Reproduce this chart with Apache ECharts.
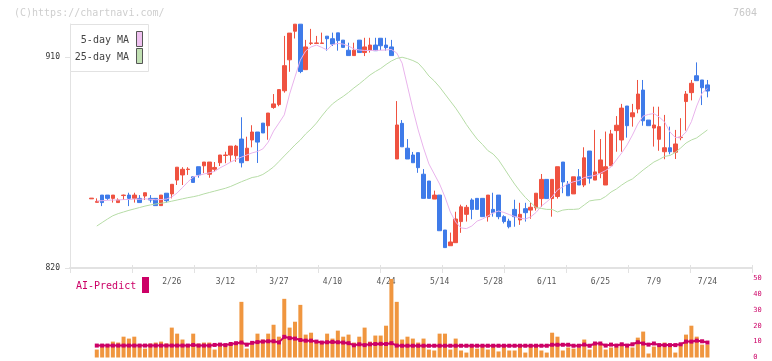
<!DOCTYPE html>
<html>
<head>
<meta charset="utf-8">
<script src="https://cdn.jsdelivr.net/npm/echarts@6.0.0/dist/echarts.min.js"></script>
<style>html,body{margin:0;padding:0;background:#fff;}</style>
</head>
<body>
<div id="chart" style="width:772px;height:361px;"></div>
<script type="text/javascript">
// trading days shown (2025)
var dates = [
  '2/3','2/4','2/5','2/6','2/7','2/10','2/12','2/13','2/14','2/17','2/18','2/19','2/20','2/21','2/25','2/26','2/27','2/28',
  '3/3','3/4','3/5','3/6','3/7','3/10','3/11','3/12','3/13','3/14','3/17','3/18','3/19','3/21','3/24','3/25','3/26','3/27','3/28','3/31',
  '4/1','4/2','4/3','4/4','4/7','4/8','4/9','4/10','4/11','4/14','4/15','4/16','4/17','4/18','4/21','4/22','4/23','4/24','4/25','4/28','4/30',
  '5/1','5/2','5/7','5/8','5/9','5/12','5/14','5/15','5/16','5/19','5/20','5/21','5/22','5/23','5/26','5/27','5/28','5/29','5/30',
  '6/2','6/3','6/4','6/5','6/6','6/9','6/10','6/11','6/12','6/13','6/16','6/17','6/18','6/19','6/20','6/23','6/24','6/25','6/26','6/27','6/30',
  '7/1','7/2','7/3','7/4','7/7','7/8','7/9','7/10','7/11','7/14','7/15','7/16','7/17','7/18','7/22','7/23','7/24'
];
var tickLabels = ['2/26','3/12','3/27','4/10','4/24','5/14','5/28','6/11','6/25','7/9','7/24'];

// [open, close, low, high]
var candles = [
  [849.5,849.8,849.5,849.8],[848.0,848.4,848.0,849.7],[851.1,847.9,846.4,851.1],[851.1,849.7,849.0,851.1],[849.7,851.1,847.9,851.1],
  [847.9,849.0,847.9,849.7],[850.9,851.1,849.0,851.3],[851.1,849.7,846.4,852.1],[849.7,851.1,847.9,852.1],[849.7,847.9,847.9,851.1],
  [850.7,852.1,849.0,852.1],[849.7,849.0,847.9,851.1],[849.7,846.6,846.6,849.7],[846.6,851.1,846.6,851.1],[851.9,848.7,847.9,851.9],
  [851.6,855.7,849.7,855.7],[857.5,863.0,855.4,863.0],[859.7,862.1,855.4,863.0],[862.0,862.2,859.7,863.0],[858.9,856.5,856.5,858.9],
  [863.2,859.7,858.5,863.2],[863.6,865.2,860.5,865.2],[860.0,865.2,858.5,865.2],[862.1,862.9,861.1,865.2],[864.9,868.2,863.5,868.2],
  [868.0,868.2,864.7,869.6],[868.2,872.0,865.3,872.0],[867.9,872.0,865.3,872.5],[875.0,864.9,862.9,884.3],[865.8,871.1,865.8,876.0],
  [874.6,878.0,871.5,880.9],[878.0,873.7,864.8,878.0],[881.8,877.6,877.6,881.8],[880.7,886.1,874.7,886.1],[888.5,890.0,887.9,894.2],
  [889.7,896.1,889.0,896.1],[895.6,906.3,894.8,919.0],[908.8,920.2,903.7,920.2],[921.0,924.0,917.9,924.0],[924.0,903.8,903.1,924.0],
  [904.6,914.3,904.6,917.3],[915.8,916.0,915.1,922.0],[915.8,916.0,915.8,919.0],[915.8,916.0,915.8,920.4],[918.9,917.8,912.7,918.9],
  [917.8,915.5,914.7,920.4],[920.3,917.0,912.7,920.3],[917.2,914.1,914.1,917.2],[912.9,910.6,910.6,916.1],[910.6,912.9,910.6,916.1],
  [917.2,911.9,911.9,917.2],[911.9,914.3,910.4,918.2],[912.9,915.1,911.9,918.2],[915.1,912.7,912.7,918.2],[918.0,914.8,912.9,918.0],
  [915.1,914.0,912.7,918.2],[914.3,910.6,910.6,917.3],[866.5,881.0,866.5,891.2],[881.7,871.7,871.7,883.1],[871.1,866.5,866.5,875.0],
  [868.2,864.9,864.9,869.5],[869.2,862.8,860.6,869.2],[860.0,849.7,849.7,862.2],[857.1,849.7,849.7,857.1],[849.4,851.1,849.4,853.0],
  [851.1,835.9,835.9,851.1],[836.2,828.7,828.7,836.2],[829.5,831.1,829.5,835.1],[830.8,840.9,830.8,844.0],[839.8,846.1,835.0,847.0],
  [842.9,845.9,839.8,846.9],[849.0,845.0,840.8,849.7],[849.7,845.0,845.0,849.7],[849.7,841.9,841.9,849.7],[841.9,851.1,839.8,851.1],
  [845.0,843.6,841.9,852.1],[851.1,841.9,840.8,851.1],[841.9,839.8,839.0,842.5],[840.0,837.6,836.9,841.0],[845.0,841.9,837.6,849.1],
  [840.5,842.9,838.4,847.8],[845.3,843.6,839.8,847.8],[844.7,845.9,841.0,847.8],[845.7,851.9,844.5,851.9],[849.6,857.8,846.0,860.1],
  [857.8,849.6,849.6,857.8],[849.6,857.8,841.9,857.8],[850.5,863.2,849.6,863.2],[865.2,856.7,851.9,865.2],[855.8,850.8,850.8,857.1],
  [851.6,858.9,851.6,858.9],[858.9,855.4,855.4,862.2],[855.4,867.0,854.5,871.5],[869.9,858.3,856.0,869.9],[857.5,861.0,857.5,878.9],
  [860.4,866.1,858.3,875.0],[855.4,863.2,855.4,878.2],[863.6,877.2,863.6,878.9],[878.6,880.9,869.6,884.8],[874.6,888.2,869.6,890.0],
  [889.1,880.7,875.6,889.1],[884.5,886.2,880.3,890.0],[887.8,894.2,886.0,900.2],[895.9,882.8,880.7,900.2],[883.1,880.7,880.7,883.1],
  [879.7,881.0,871.8,888.8],[874.9,880.3,870.0,888.8],[869.6,871.3,866.4,885.3],[871.3,869.6,868.5,880.3],[869.4,872.9,866.5,878.9],
  [875.6,875.8,874.5,883.9],[891.0,894.2,878.6,895.5],[894.8,898.8,891.5,900.2],[902.0,899.9,899.9,907.7],[900.2,896.9,889.5,900.2],
  [898.1,895.5,892.8,900.2]
];

var ma5 = [null,
  848.6,848.7,848.9,849.0,849.0,849.2,849.2,849.4,849.3,849.5,
  849.3,849.1,849.2,849.4,850.3,852.0,854.3,856.7,858.8,859.5,
  860.1,860.6,861.2,862.7,863.9,865.2,866.3,867.3,868.2,869.1,
  869.7,870.8,873.7,878.4,881.8,885.3,894.2,901.5,908.7,912.6,
  914.3,915.1,914.1,913.0,915.3,915.8,915.5,914.7,913.4,913.0,
  912.8,912.8,912.8,912.9,913.0,913.2,911.7,907.4,897.6,887.8,
  878.9,871.2,864.4,860.1,855.8,850.3,843.9,839.6,837.1,836.8,
  837.9,840.0,840.9,842.2,843.5,844.3,843.7,842.8,842.0,841.3,
  840.9,841.8,843.7,846.4,848.2,850.3,853.3,854.6,856.0,856.8,
  857.3,858.6,859.1,859.5,860.4,861.6,863.1,866.1,869.1,872.5,
  876.7,881.4,884.8,885.5,885.9,884.4,882.3,878.0,875.7,875.7,
  878.0,882.4,889.1,894.6,896.6
];

var ma25 = [null,
  837.9,839.4,840.9,842.3,843.2,843.9,844.6,845.2,845.8,846.4,
  846.9,847.3,847.6,848.0,848.5,849.0,849.5,850.0,850.4,850.9,
  851.6,852.2,852.8,853.4,854.0,854.8,855.8,856.8,857.7,858.6,
  859.0,859.9,861.4,863.1,865.4,867.8,870.1,872.5,874.6,877.2,
  879.3,881.8,884.8,887.6,890.0,891.7,893.2,894.9,896.8,898.5,
  900.4,902.3,903.8,905.1,906.8,908.3,909.4,909.9,909.3,908.5,
  907.4,904.9,901.9,899.8,897.2,894.2,891.2,888.2,884.8,881.2,
  878.0,875.0,872.7,870.1,868.6,866.1,862.7,859.2,855.8,852.8,
  850.1,847.9,845.8,845.4,845.0,845.0,843.9,844.7,845.0,845.0,
  845.2,846.9,848.6,849.0,849.2,850.5,852.4,853.7,855.4,856.9,
  858.0,859.9,861.8,863.5,865.2,866.3,867.6,868.0,869.3,871.2,
  873.3,874.6,875.5,877.2,878.9
];

var volume = [null,
  5.0,6.7,6.7,10,9.4,13.1,11.9,13.1,6.7,5.6,
  8.8,9.4,10,8.8,18.8,15,11.3,7.5,15,8.8,
  9.4,9.4,5,8.1,7.5,8.8,8.8,35,5.6,8.1,
  15,11.3,15,20.6,13.1,36.9,18.8,22.5,33.1,14.4,
  15.6,10,10,15,11.9,16.9,13.1,14.4,9.4,13.1,
  18.8,10,13.8,13.8,20,49.4,35,11.3,13.1,11.9,
  9.4,11.9,5,4.4,15,15,5,11.9,4.4,3.1,
  6.9,5.6,6.9,5,6.9,3.8,6.9,4.4,4.4,6.9,
  3.1,7.5,7.5,4.4,3.1,15.6,13.1,4.4,6.3,5.6,
  6.3,11.3,5,8.1,8.1,5,6.3,6.9,8.1,6.9,
  6.3,12.5,16.3,2.5,6.9,7.5,9.4,6.9,3.1,7.5,
  14.4,20,13.1,8.1,8.1
];

var aiPredict = [null,
  7.5,7.5,7.5,7.5,7.5,7.5,7.5,7.5,7.5,7.5,
  7.5,7.5,7.5,7.5,7.5,7.5,7.5,7.5,7.9,7.5,
  7.5,7.5,7.9,8.1,7.8,8.5,9.0,9.4,8.1,9.2,
  9.7,10.0,10.2,10.2,9.5,13.0,12.2,11.9,11.0,10.6,
  10.6,10.0,9.4,9.6,9.8,9.6,9.4,9.0,7.7,8.3,
  7.8,8.3,8.5,8.6,8.5,9.0,7.5,7.4,7.4,7.4,
  7.4,7.4,7.4,7.4,7.4,7.4,7.4,7.4,7.4,7.4,
  7.4,7.4,7.4,7.4,7.4,7.4,7.4,7.4,7.4,7.4,
  7.4,7.4,7.4,7.4,7.4,8.0,8.0,8.0,8.0,7.4,
  7.4,8.1,7.4,8.8,8.8,7.5,8.1,7.5,8.3,7.5,
  8.3,9.6,8.8,8.1,8.8,7.8,7.8,7.8,7.8,8.3,
  10.0,10.0,10.6,10.2,9.4
];

var RED = '#ef5240';
var BLUE = '#3f7be9';
var MAGENTA = '#cc0066';
var FONT = '"DejaVu Sans Mono", "Liberation Mono", monospace';

// empty slots either side of the data on the category axis
var PAD_LEFT = 4, PAD_RIGHT = 8;
function pad(arr, fill) {
  var out = [];
  for (var i = 0; i < PAD_LEFT; i++) out.push(fill);
  out = out.concat(arr);
  for (var j = 0; j < PAD_RIGHT; j++) out.push(fill);
  return out;
}
var axisDates = [];
for (var i = 0; i < PAD_LEFT; i++) axisDates.push('l' + i);
axisDates = axisDates.concat(dates);
for (var j = 0; j < PAD_RIGHT; j++) axisDates.push('r' + j);

var myChart = echarts.init(document.getElementById('chart'));

var option = {
  animation: false,
  textStyle: { fontFamily: FONT },
  grid: [
    // price pane
    { left: 70, top: 24, width: 680.3, height: 244 },
    // frame: bottom tick axis + price labels (820..910)
    { left: 70, top: 57, width: 682, height: 211 },
    // volume pane
    { left: 70, top: 278, width: 680.3, height: 80 }
  ],
  xAxis: [
    {
      type: 'category', gridIndex: 0, data: axisDates, boundaryGap: false,
      axisLine: { show: false }, axisTick: { show: false }, splitLine: { show: false },
      axisLabel: {
        interval: function (idx, val) { return tickLabels.indexOf(val) >= 0; },
        margin: 10, fontSize: 8, color: '#555', fontFamily: FONT
      }
    },
    {
      type: 'value', gridIndex: 1, min: 0, max: 11, interval: 1,
      axisLine: { show: true, lineStyle: { color: '#e2e2e2', width: 2 } },
      axisTick: { show: true, length: 5, lineStyle: { color: '#e2e2e2', width: 1 } },
      axisLabel: { show: false }, splitLine: { show: false }
    },
    {
      type: 'value', gridIndex: 1, min: 0, max: 11, interval: 1, position: 'bottom',
      axisLine: { show: false },
      axisTick: { show: true, inside: true, length: 3, lineStyle: { color: '#e2e2e2', width: 1 } },
      axisLabel: { show: false }, splitLine: { show: false }
    },
    {
      type: 'category', gridIndex: 2, data: axisDates, boundaryGap: false, show: false
    }
  ],
  yAxis: [
    {
      type: 'value', gridIndex: 0, min: 820, max: 924.08,
      axisLine: { show: true, lineStyle: { color: '#e2e2e2', width: 1 } },
      axisTick: { show: false }, axisLabel: { show: false }, splitLine: { show: false }
    },
    {
      type: 'value', gridIndex: 1, min: 820, max: 910, interval: 90,
      axisLine: { show: false },
      axisTick: { show: true, length: 5, lineStyle: { color: '#e2e2e2' } },
      axisLabel: { fontSize: 8, color: '#333', margin: 10, fontFamily: FONT },
      splitLine: { show: false }
    },
    {
      type: 'value', gridIndex: 2, position: 'right', min: 0, max: 50, interval: 10,
      axisLine: { show: false }, axisTick: { show: false }, splitLine: { show: false },
      axisLabel: { fontSize: 7, color: MAGENTA, margin: 3, fontFamily: FONT }
    }
  ],
  series: [
    {
      name: 'price', type: 'candlestick', xAxisIndex: 0, yAxisIndex: 0,
      data: pad(candles, '-'), barWidth: 4,
      itemStyle: { color: RED, color0: BLUE, borderColor: RED, borderColor0: BLUE, borderWidth: 1 }
    },
    {
      name: '5-day MA', type: 'line', xAxisIndex: 0, yAxisIndex: 0,
      data: pad(ma5, null), symbol: 'none',
      lineStyle: { color: '#e9b3ec', width: 1 }
    },
    {
      name: '25-day MA', type: 'line', xAxisIndex: 0, yAxisIndex: 0,
      data: pad(ma25, null), symbol: 'none',
      lineStyle: { color: '#b6dca6', width: 1 }
    },
    {
      name: 'volume', type: 'bar', xAxisIndex: 3, yAxisIndex: 2,
      data: pad(volume, null), barWidth: 4,
      itemStyle: { color: '#f0963f' }
    },
    {
      name: 'AI-Predict', type: 'line', xAxisIndex: 3, yAxisIndex: 2,
      data: pad(aiPredict, null), symbol: 'rect', symbolSize: 4, showAllSymbol: true,
      lineStyle: { color: MAGENTA, width: 2 }, itemStyle: { color: MAGENTA }
    }
  ],
  graphic: [
    { type: 'text', left: 14, top: 8, style: { text: '(C)https://chartnavi.com/', font: '10px ' + FONT, fill: '#cfcfcf' } },
    { type: 'text', right: 15, top: 8, style: { text: '7604', font: '10px ' + FONT, fill: '#c8c8c8' } },
    { type: 'rect', shape: { x: 70.5, y: 24.5, width: 78, height: 47 }, style: { fill: '#fff', stroke: '#e2e2e2', lineWidth: 1 }, z: 100 },
    { type: 'text', x: 129, y: 40, style: { text: '5-day MA', font: '10px ' + FONT, fill: '#444', textAlign: 'right', textVerticalAlign: 'middle' }, z: 101 },
    { type: 'text', x: 129, y: 57, style: { text: '25-day MA', font: '10px ' + FONT, fill: '#444', textAlign: 'right', textVerticalAlign: 'middle' }, z: 101 },
    { type: 'rect', shape: { x: 136.5, y: 31.5, width: 6, height: 15 }, style: { fill: '#efc1f0', stroke: '#555', lineWidth: 1 }, z: 101 },
    { type: 'rect', shape: { x: 136.5, y: 48.5, width: 6, height: 15 }, style: { fill: '#c1e0b3', stroke: '#555', lineWidth: 1 }, z: 101 },
    { type: 'text', x: 76, y: 286, style: { text: 'AI-Predict', font: '10px ' + FONT, fill: MAGENTA, textVerticalAlign: 'middle' }, z: 101 },
    { type: 'rect', shape: { x: 142, y: 277, width: 7, height: 16 }, style: { fill: MAGENTA }, z: 101 }
  ]
};

myChart.setOption(option);
</script>
</body>
</html>
